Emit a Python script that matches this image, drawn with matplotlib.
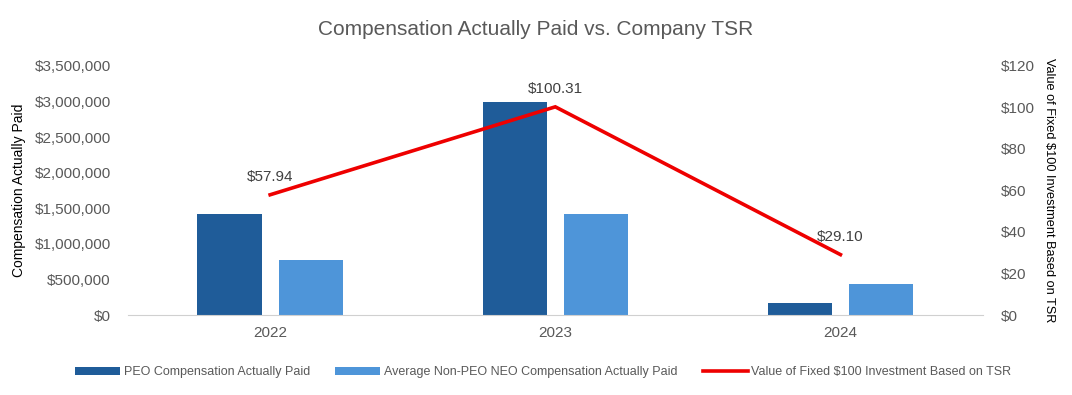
import numpy as np
import matplotlib.pyplot as plt
from matplotlib.ticker import FuncFormatter

# data
years = ["2022", "2023", "2024"]
peo_cap = [1420000, 3000000, 170000]
neo_cap = [775000, 1420000, 440000]
tsr = [57.94, 100.31, 29.10]

peo_color = "#1F5C99"
neo_color = "#4E95D9"
tsr_color = "#EE0000"
grey = "#595959"

plt.rcParams['font.family'] = ['Liberation Sans', 'DejaVu Sans']

fig = plt.figure(figsize=(10.72, 3.95), dpi=100)
ax = fig.add_axes([0.119, 0.2025, 0.798, 0.6305])
ax2 = ax.twinx()

x = np.arange(len(years))
w = 0.225
gap = 0.06
ax.bar(x - (w + gap) / 2, peo_cap, w, color=peo_color, label="PEO Compensation Actually Paid")
ax.bar(x + (w + gap) / 2, neo_cap, w, color=neo_color, label="Average Non-PEO NEO Compensation Actually Paid")
ax2.plot(x, tsr, color=tsr_color, linewidth=2.6, solid_joinstyle="miter",
         label="Value of Fixed $100 Investment Based on TSR")
for xi, v in zip(x, tsr):
    ax2.annotate(f"${v:.2f}", (xi, v), xytext=(0, 8), textcoords="offset points",
                 ha="center", va="bottom", fontsize=11, color="#404040")

ax.set_xlim(-0.5, 2.5)
ax.set_ylim(0, 3500000)
ax.set_yticks(np.arange(0, 3500001, 500000))
ax.yaxis.set_major_formatter(FuncFormatter(lambda v, p: f"${v:,.0f}"))
ax2.set_ylim(0, 120)
ax2.set_yticks(np.arange(0, 121, 20))
ax2.yaxis.set_major_formatter(FuncFormatter(lambda v, p: f"${v:.0f}"))
ax.set_xticks(x)
ax.set_xticklabels(years)

for a in (ax, ax2):
    for s in a.spines.values():
        s.set_visible(False)
    a.tick_params(length=0, labelsize=11, labelcolor=grey)
ax.spines["bottom"].set_visible(True)
ax.spines["bottom"].set_color("#D0D0D0")
ax.tick_params(axis="y", pad=12)
ax2.tick_params(axis="y", pad=13)
ax.tick_params(axis="x", pad=8)

ax.set_ylabel("Compensation Actually Paid", fontsize=10, color="black", labelpad=6)
ax2.set_ylabel("Value of Fixed $100 Investment Based on TSR", fontsize=9.2, color="black",
               rotation=-90, va="bottom", labelpad=6)

fig.suptitle("Compensation Actually Paid vs. Company TSR", fontsize=15, color=grey, y=0.95)

h1, l1 = ax.get_legend_handles_labels()
h2, l2 = ax2.get_legend_handles_labels()
leg = fig.legend(h1 + h2, l1 + l2, loc="center", bbox_to_anchor=(0.507, 0.058), ncol=3,
                 frameon=False, handlelength=3.6, handleheight=0.6,
                 columnspacing=2.0, handletextpad=0.3,
                 prop={'family': ['Liberation Sans', 'DejaVu Sans'], 'size': 9})
for t in leg.get_texts():
    t.set_color(grey)

fig.savefig("out.png", dpi=100)
